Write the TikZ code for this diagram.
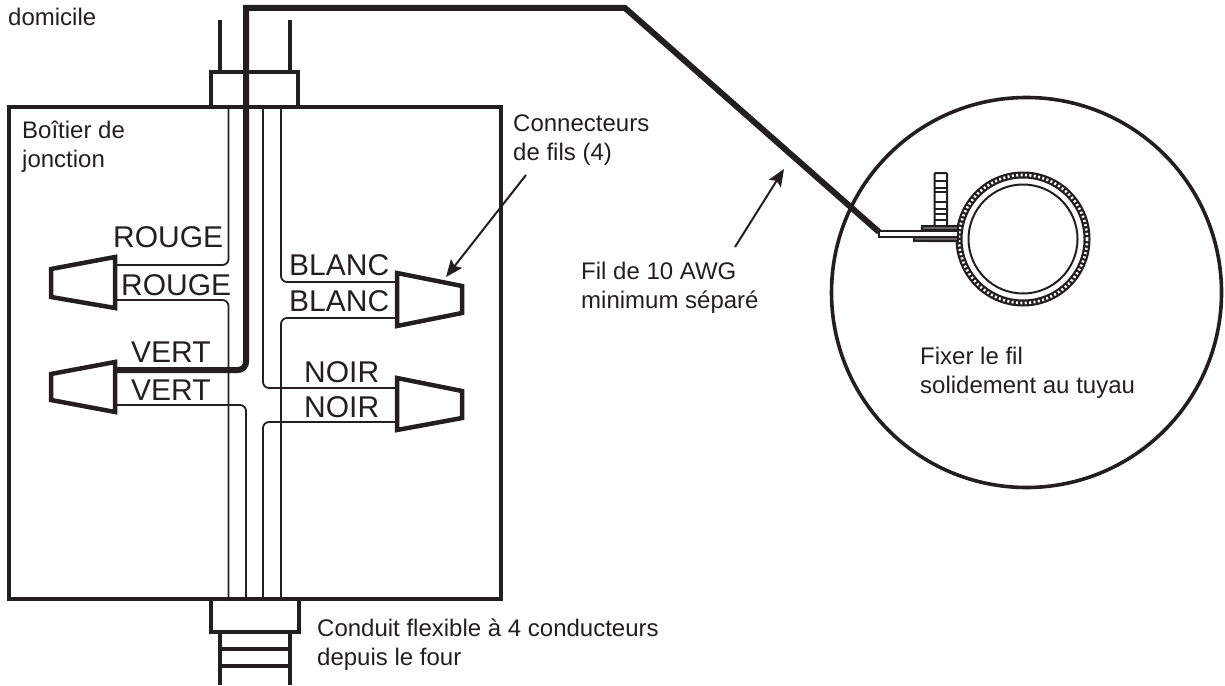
\documentclass[tikz,border=0pt]{standalone}
\usepackage{fontspec}
\setmainfont{Liberation Sans}
\usetikzlibrary{arrows.meta}
\definecolor{ink}{HTML}{231F20}
\tikzset{
  x=1pt,y=-1pt,
  heavy/.style={draw=ink,line width=4pt,line join=miter},
  thin wire/.style={draw=ink,line width=1.8pt,rounded corners=6pt},
  ground wire/.style={draw=ink,line width=6pt,line join=miter},
  nut/.style={draw=ink,line width=4.5pt,fill=white,line join=miter},
  pointer/.style={draw=ink,line width=2pt,-{Stealth[length=17pt,width=14pt,inset=3pt]}},
  small text/.style={text=ink,align=left,inner sep=0pt,anchor=base west,font=\fontsize{24}{29}\selectfont},
  wire label/.style={text=ink,inner sep=0pt,anchor=base west,font=\fontsize{30}{30}\selectfont},
}
\begin{document}
\begin{tikzpicture}
\useasboundingbox (0,0) rectangle (1225,685);
\draw[heavy] (9,107) rectangle (501,599);
\coordinate (pipeTL) at (219.5,20);
\coordinate (pipeTR) at (290,20);
\draw[heavy] (pipeTL) -- (219.5,72);
\draw[heavy] (pipeTR) -- (290,72);
\draw[heavy] (211,107) -- (211,72) -- (298,72) -- (298,107);
\draw[heavy] (211,599) -- (211,632) -- (299,632) -- (299,599);
\coordinate (condL) at (220,685);
\coordinate (condR) at (289.5,685);
\draw[heavy] (220,632) -- (condL);
\draw[heavy] (289.5,632) -- (condR);
\draw[heavy] (220,649) -- (289.5,649);
\draw[heavy] (220,666) -- (289.5,666);
\coordinate (mRa) at (116,265);
\coordinate (mRb) at (116,300);
\coordinate (mVa) at (116,370);
\coordinate (mVb) at (116,405);
\coordinate (mBa) at (397,282);
\coordinate (mBb) at (397,318);
\coordinate (mNa) at (397,388);
\coordinate (mNb) at (397,422);
\draw[thin wire] (228.5,107) -- (228.5,265) -- (mRa);
\draw[thin wire] (mRb) -- (228.5,300) -- (228.5,599);
\draw[thin wire] (mVb) -- (246,405) -- (246,599);
\draw[thin wire] (281,107) -- (281,282) -- (mBa);
\draw[thin wire] (mBb) -- (281,318) -- (281,599);
\draw[thin wire] (263,107) -- (263,388) -- (mNa);
\draw[thin wire] (mNb) -- (263,422) -- (263,599);
\coordinate (clampEnd) at (879,232);
\draw[ground wire,line join=miter] (mVa) -- (238,370) to[out=0,in=-90] (246,362) -- (246,8) -- (625,8) -- (clampEnd);
\draw[nut] (115,257) -- (51,269) -- (51,297) -- (115,308) -- cycle;
\draw[nut] (115,362) -- (51,374) -- (51,400) -- (115,412) -- cycle;
\draw[nut] (397,273) -- (462,286) -- (462,313) -- (397,326) -- cycle;
\draw[nut] (397,378) -- (462,391) -- (462,418) -- (397,430) -- cycle;
\node[wire label] (l1) at (113,247) {ROUGE};
\node[wire label] (l2) at (121,295) {ROUGE};
\node[wire label] (l3) at (131,362) {VERT};
\node[wire label] (l4) at (131,400) {VERT};
\node[wire label] (l5) at (289,275) {BLANC};
\node[wire label] (l6) at (289,311) {BLANC};
\node[wire label] (l7) at (304,382) {NOIR};
\node[wire label] (l8) at (304,417) {NOIR};
\node[small text] (t1) at (8,26) {domicile};
\node[small text] (t2) at (22,167) {Boîtier de\\jonction};
\node[small text] (t3) at (513,160) {Connecteurs\\de fils (4)};
\node[small text] (t4) at (581,308) {Fil de 10 AWG\\minimum séparé};
\node[small text] (t5) at (920,393) {Fixer le fil\\solidement au tuyau};
\node[small text] (t6) at (317,665) {Conduit flexible à 4 conducteurs\\depuis le four};
\coordinate (p1a) at (526,175);
\coordinate (p1b) at (446,277);
\coordinate (p2a) at (735,247);
\coordinate (p2b) at (784,169);
\draw[pointer] (p1a) -- (p1b);
\draw[pointer] (p2a) -- (p2b);
\draw[draw=ink,line width=3.6pt] (1026.5,292.5) circle[radius=195];
\draw[draw=ink,line width=2pt] (1023,239) circle[radius=54.5];
\draw[draw=ink,line width=7pt] (1023,239) circle[radius=64];
\draw[draw=white,line width=2.6pt,dash pattern=on 2pt off 2.4pt] (1023,239) circle[radius=64];
\draw[draw=ink,line width=2pt,fill=white,rounded corners=1pt] (934.5,173) rectangle (947,226);
\foreach \yy in {181,188,192,202,209,214,220}{\draw[draw=ink,line width=1.6pt] (934.5,\yy) -- (947,\yy);}
\draw[draw=ink,line width=2pt,fill=white] (929.5,241) arc[start angle=180,end angle=360,radius=11] -- cycle;
\draw[draw=ink,line width=2pt,fill=ink!70] (922,226) rectangle (958,230);
\draw[draw=ink,line width=2pt,fill=ink!70] (914,237) rectangle (958,241);
\draw[draw=ink,line width=2.4pt,fill=white] (879,231) rectangle (958,237);
\end{tikzpicture}
\end{document}
